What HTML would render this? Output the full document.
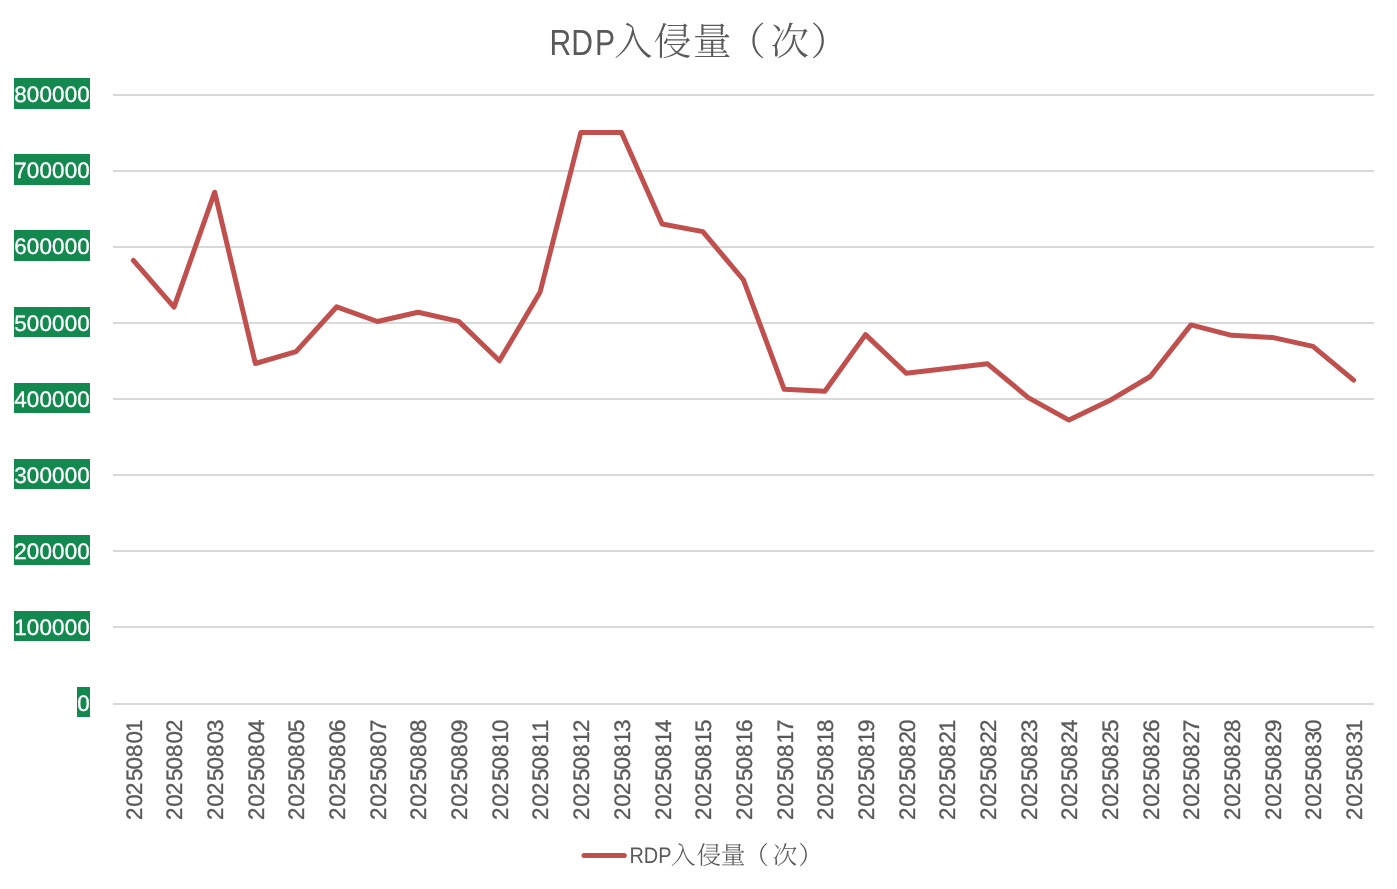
<!DOCTYPE html>
<html lang="zh-CN"><head><meta charset="utf-8"><title>RDP入侵量（次）</title>
<style>html,body{margin:0;padding:0;background:#fff;}body{width:1397px;height:889px;overflow:hidden;}svg{display:block;}.t{will-change:transform;}text{font-kerning:none;text-rendering:geometricPrecision;}</style>
</head><body>
<svg width="1397" height="889" viewBox="0 0 1397 889">
<rect x="0" y="0" width="1397" height="889" fill="#ffffff"/>
<g fill="#D9D9D9" shape-rendering="crispEdges">
<rect x="113" y="94" width="1261" height="2"/>
<rect x="113" y="170" width="1261" height="2"/>
<rect x="113" y="246" width="1261" height="2"/>
<rect x="113" y="322" width="1261" height="2"/>
<rect x="113" y="398" width="1261" height="2"/>
<rect x="113" y="474" width="1261" height="2"/>
<rect x="113" y="550" width="1261" height="2"/>
<rect x="113" y="626" width="1261" height="2"/>
<rect x="113" y="703" width="1261" height="2"/>
</g>
<g class="t" font-family='"Liberation Sans", "Noto Sans CJK SC", sans-serif' font-size="22.4" fill="#ffffff" stroke="#ffffff" stroke-width="0.3">
<rect x="14" y="78" width="76" height="31" fill="#13884F" stroke="none"/>
<text x="14.25" y="101.90" textLength="75.50" lengthAdjust="spacing">800000</text>
<rect x="14" y="154" width="76" height="31" fill="#13884F" stroke="none"/>
<text x="14.25" y="177.90" textLength="75.50" lengthAdjust="spacing">700000</text>
<rect x="14" y="230" width="76" height="31" fill="#13884F" stroke="none"/>
<text x="14.25" y="253.90" textLength="75.50" lengthAdjust="spacing">600000</text>
<rect x="14" y="307" width="76" height="30" fill="#13884F" stroke="none"/>
<text x="14.25" y="330.90" textLength="75.50" lengthAdjust="spacing">500000</text>
<rect x="14" y="383" width="76" height="30" fill="#13884F" stroke="none"/>
<text x="14.25" y="406.90" textLength="75.50" lengthAdjust="spacing">400000</text>
<rect x="14" y="459" width="76" height="30" fill="#13884F" stroke="none"/>
<text x="14.25" y="482.90" textLength="75.50" lengthAdjust="spacing">300000</text>
<rect x="14" y="535" width="76" height="30" fill="#13884F" stroke="none"/>
<text x="14.25" y="558.90" textLength="75.50" lengthAdjust="spacing">200000</text>
<rect x="14" y="611" width="76" height="30" fill="#13884F" stroke="none"/>
<text x="14.25" y="634.90" textLength="75.50" lengthAdjust="spacing">100000</text>
<rect x="77" y="687" width="13" height="30" fill="#13884F" stroke="none"/>
<text x="77.25" y="710.90" textLength="12.50" lengthAdjust="spacing">0</text>
</g>
<g class="t" font-family='"Liberation Sans", "Noto Sans CJK SC", sans-serif' font-size="22.4" fill="#595959" stroke="#595959" stroke-width="0.35">
<text transform="translate(142 820.4) rotate(-90)" x="0.5 13.6 25.5 39.4 50.9 63.3 76.8 88.3" y="0">20250801</text>
<text transform="translate(182 820.4) rotate(-90)" x="0.5 13.6 25.5 39.4 50.9 63.3 76.8 88.3" y="0">20250802</text>
<text transform="translate(223 820.4) rotate(-90)" x="0.5 13.6 25.5 39.4 50.9 63.3 76.8 88.3" y="0">20250803</text>
<text transform="translate(264 820.4) rotate(-90)" x="0.5 13.6 25.5 39.4 50.9 63.3 76.8 88.3" y="0">20250804</text>
<text transform="translate(304 820.4) rotate(-90)" x="0.5 13.6 25.5 39.4 50.9 63.3 76.8 88.3" y="0">20250805</text>
<text transform="translate(345 820.4) rotate(-90)" x="0.5 13.6 25.5 39.4 50.9 63.3 76.8 88.3" y="0">20250806</text>
<text transform="translate(386 820.4) rotate(-90)" x="0.5 13.6 25.5 39.4 50.9 63.3 76.8 88.3" y="0">20250807</text>
<text transform="translate(426 820.4) rotate(-90)" x="0.5 13.6 25.5 39.4 50.9 63.3 76.8 88.3" y="0">20250808</text>
<text transform="translate(467 820.4) rotate(-90)" x="0.5 13.6 25.5 39.4 50.9 63.3 76.8 88.3" y="0">20250809</text>
<text transform="translate(508 820.4) rotate(-90)" x="0.5 13.6 25.5 39.4 50.9 63.3 76.8 88.3" y="0">20250810</text>
<text transform="translate(548 820.4) rotate(-90)" x="0.5 13.6 25.5 39.4 50.9 63.3 76.8 88.3" y="0">20250811</text>
<text transform="translate(589 820.4) rotate(-90)" x="0.5 13.6 25.5 39.4 50.9 63.3 76.8 88.3" y="0">20250812</text>
<text transform="translate(630 820.4) rotate(-90)" x="0.5 13.6 25.5 39.4 50.9 63.3 76.8 88.3" y="0">20250813</text>
<text transform="translate(671 820.4) rotate(-90)" x="0.5 13.6 25.5 39.4 50.9 63.3 76.8 88.3" y="0">20250814</text>
<text transform="translate(711 820.4) rotate(-90)" x="0.5 13.6 25.5 39.4 50.9 63.3 76.8 88.3" y="0">20250815</text>
<text transform="translate(752 820.4) rotate(-90)" x="0.5 13.6 25.5 39.4 50.9 63.3 76.8 88.3" y="0">20250816</text>
<text transform="translate(793 820.4) rotate(-90)" x="0.5 13.6 25.5 39.4 50.9 63.3 76.8 88.3" y="0">20250817</text>
<text transform="translate(833 820.4) rotate(-90)" x="0.5 13.6 25.5 39.4 50.9 63.3 76.8 88.3" y="0">20250818</text>
<text transform="translate(874 820.4) rotate(-90)" x="0.5 13.6 25.5 39.4 50.9 63.3 76.8 88.3" y="0">20250819</text>
<text transform="translate(915 820.4) rotate(-90)" x="0.5 13.6 25.5 39.4 50.9 63.3 76.8 88.3" y="0">20250820</text>
<text transform="translate(955 820.4) rotate(-90)" x="0.5 13.6 25.5 39.4 50.9 63.3 76.8 88.3" y="0">20250821</text>
<text transform="translate(996 820.4) rotate(-90)" x="0.5 13.6 25.5 39.4 50.9 63.3 76.8 88.3" y="0">20250822</text>
<text transform="translate(1037 820.4) rotate(-90)" x="0.5 13.6 25.5 39.4 50.9 63.3 76.8 88.3" y="0">20250823</text>
<text transform="translate(1077 820.4) rotate(-90)" x="0.5 13.6 25.5 39.4 50.9 63.3 76.8 88.3" y="0">20250824</text>
<text transform="translate(1118 820.4) rotate(-90)" x="0.5 13.6 25.5 39.4 50.9 63.3 76.8 88.3" y="0">20250825</text>
<text transform="translate(1159 820.4) rotate(-90)" x="0.5 13.6 25.5 39.4 50.9 63.3 76.8 88.3" y="0">20250826</text>
<text transform="translate(1199 820.4) rotate(-90)" x="0.5 13.6 25.5 39.4 50.9 63.3 76.8 88.3" y="0">20250827</text>
<text transform="translate(1240 820.4) rotate(-90)" x="0.5 13.6 25.5 39.4 50.9 63.3 76.8 88.3" y="0">20250828</text>
<text transform="translate(1281 820.4) rotate(-90)" x="0.5 13.6 25.5 39.4 50.9 63.3 76.8 88.3" y="0">20250829</text>
<text transform="translate(1321 820.4) rotate(-90)" x="0.5 13.6 25.5 39.4 50.9 63.3 76.8 88.3" y="0">20250830</text>
<text transform="translate(1362 820.4) rotate(-90)" x="0.5 13.6 25.5 39.4 50.9 63.3 76.8 88.3" y="0">20250831</text>
</g>
<polyline points="133.34,260.30 174.02,307.10 214.69,192.20 255.37,363.50 296.05,351.60 336.73,306.80 377.40,321.50 418.08,312.30 458.76,321.40 499.44,360.80 540.11,292.00 580.79,132.50 621.47,132.50 662.15,224.00 702.82,231.60 743.50,280.00 784.18,389.30 824.85,391.30 865.53,334.60 906.21,373.30 946.89,368.50 987.56,363.80 1028.24,397.60 1068.92,420.10 1109.60,400.60 1150.27,376.50 1190.95,324.90 1231.63,335.30 1272.31,337.40 1312.98,346.40 1353.66,380.20" fill="none" stroke="#C0504D" stroke-width="5" stroke-linejoin="round" stroke-linecap="round"/>
<g class="t" fill="#595959">
<text transform="translate(549.6 54.9) scale(0.8287 1)" x="0 26.21 54.83" y="0" font-family='"Liberation Sans", "Noto Sans CJK SC", sans-serif' font-size="36.3">RDP</text>
<text x="613.9 653.3 693.1 727.2 770.6 810.6" y="54.8" font-family='"Liberation Sans", "Noto Serif CJK SC", serif' font-size="38.5" font-weight="300">入侵量（次）</text>
</g>
<line x1="584" y1="855.5" x2="624.3" y2="855.5" stroke="#C0504D" stroke-width="5" stroke-linecap="round"/>
<g class="t" fill="#595959">
<text x="629.5" y="862.5" font-family='"Liberation Sans", "Noto Sans CJK SC", sans-serif' font-size="22.6" textLength="42" lengthAdjust="spacingAndGlyphs">RDP</text>
<text x="670.8 696.5 720.8 743.9 772.6 798.3" y="863.7" font-family='"Liberation Sans", "Noto Serif CJK SC", serif' font-size="24.8" font-weight="300">入侵量（次）</text>
</g>
</svg>
</body></html>
